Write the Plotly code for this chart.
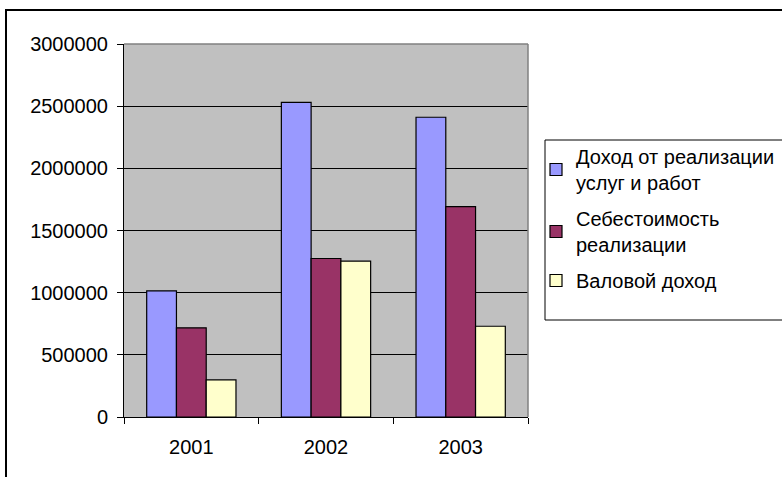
import plotly.graph_objects as go

# ---- data ----
years = ["2001", "2002", "2003"]
series_names = ["Доход от реализации<br>услуг и работ", "Себестоимость<br>реализации", "Валовой доход"]
revenue = [1015000, 2530000, 2411000]
cost = [717000, 1275000, 1692000]
gross = [298000, 1254000, 730000]
y_ticks = [0, 500000, 1000000, 1500000, 2000000, 2500000, 3000000]

colors = ["#9999FF", "#993366", "#FFFFCC"]

W, H = 782, 477
L, R, T, B = 124, 528, 44, 417  # plot area in pixels


def px(x):
    return (x - L) / (R - L)


def py(y):
    return (B - y) / (B - T)


FONT = "Liberation Sans, Arial, sans-serif"

fig = go.Figure()
for i, (name, vals, c) in enumerate(zip(series_names, [revenue, cost, gross], colors)):
    fig.add_trace(go.Bar(
        x=years, y=vals, name=name, legendgroup=f"g{i}",
        marker=dict(color=c, line=dict(color="black", width=1.2)),
    ))

fig.update_layout(
    width=W, height=H,
    margin=dict(l=L, r=W - R, t=T, b=H - B, autoexpand=False),
    paper_bgcolor="white",
    plot_bgcolor="#C0C0C0",
    barmode="group",
    bargap=0.337,
    bargroupgap=0,
    font=dict(family=FONT, size=20, color="black"),
    showlegend=True,
    legend=dict(
        x=px(536), y=py(137), xanchor="left", yanchor="top",
        bgcolor="rgba(0,0,0,0)", borderwidth=0,
        font=dict(family=FONT, size=20, color="black"),
        traceorder="grouped", tracegroupgap=7,
    ),
    xaxis=dict(
        type="category",
        showline=True, linecolor="black", linewidth=1,
        ticks="outside", tickson="boundaries", ticklen=6, tickcolor="black",
        ticklabelstandoff=12,
        showgrid=False,
        tickfont=dict(family=FONT, size=20, color="black"),
    ),
    yaxis=dict(
        range=[0, 3000000],
        tickmode="array", tickvals=y_ticks, tickformat="d",
        showline=True, linecolor="black", linewidth=1,
        ticks="outside", ticklen=6, tickcolor="black",
        ticklabelstandoff=5,
        showgrid=True, gridcolor="black", gridwidth=1,
        zeroline=False,
        tickfont=dict(family=FONT, size=20, color="black"),
    ),
    shapes=[
        # outer chart frame
        dict(type="rect", xref="paper", yref="paper",
             x0=px(6), x1=px(820), y0=py(520), y1=py(10),
             line=dict(color="black", width=2), fillcolor="rgba(0,0,0,0)"),
        # plot area border (top / right gray)
        dict(type="line", xref="paper", yref="paper",
             x0=0, x1=1, y0=1, y1=1, line=dict(color="#808080", width=1.5), layer="above"),
        dict(type="line", xref="paper", yref="paper",
             x0=1, x1=1, y0=0, y1=1, line=dict(color="#808080", width=1.5), layer="above"),
        # legend box
        dict(type="rect", xref="paper", yref="paper",
             x0=px(545), x1=px(820), y0=py(320), y1=py(140),
             line=dict(color="black", width=1), fillcolor="rgba(0,0,0,0)"),
    ],
)

fig.write_html("out.html", config={"displayModeBar": False},
               post_script="document.body.style.margin='0';")
